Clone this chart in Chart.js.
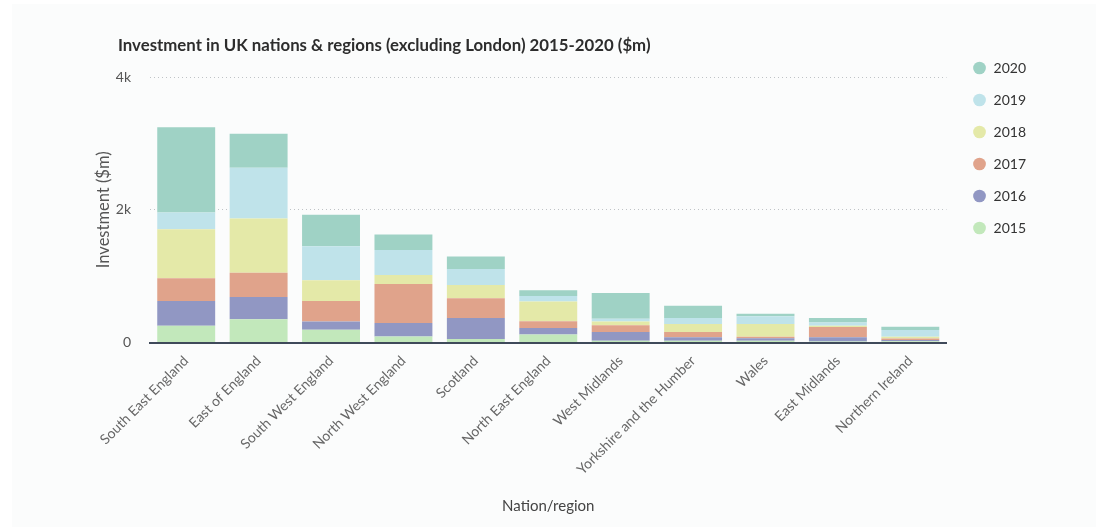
<!DOCTYPE html>
<html>
<head>
<meta charset="utf-8">
<script src="https://cdn.jsdelivr.net/npm/chart.js@4.4.1/dist/chart.umd.min.js"></script>
<style>
  body { margin: 0; background: #fff; font-family: Lato, sans-serif; }
  #card { position: absolute; left: 12px; top: 4px; right: 0; bottom: 0; background: #fbfcfc; }
  #title { position: absolute; left: 118px; top: 34px; font-size: 16.8px; font-weight: 700; color: #2d2d2d; }
  #c { position: absolute; left: 0; top: 0; }
</style>
</head>
<body>
<div id="card"></div>
<canvas id="c" width="1096" height="527"></canvas>
<div id="title">Investment in UK nations &amp; regions (excluding London) 2015-2020 ($m)</div>
<script>
var regions = ["South East England", "East of England", "South West England", "North West England",
  "Scotland", "North East England", "West Midlands", "Yorkshire and the Humber", "Wales",
  "East Midlands", "Northern Ireland"];
var years = ["2015", "2016", "2017", "2018", "2019", "2020"];

var v2015 = [255, 351, 194, 92, 52, 122, 26, 26, 26, 15, 21];
var v2016 = [371, 336, 122, 204, 320, 98, 133, 56, 41, 67, 16];
var v2017 = [342, 366, 310, 585, 295, 101, 101, 77, 20, 153, 24];
var v2018 = [737, 816, 311, 137, 199, 296, 56, 122, 194, 20, 26];
var v2019 = [255, 763, 513, 377, 244, 85, 41, 91, 116, 46, 102];
var v2020 = [1283, 513, 474, 234, 188, 87, 391, 184, 37, 71, 51];

var yTicks = [0, 2000, 4000];
var colors = ["#c2e8bb", "#9197c3", "#e0a38b", "#e4e9a8", "#bfe3ea", "#9fd2c5"];

var series = [v2015, v2016, v2017, v2018, v2019, v2020];
var datasets = [];
for (var i = 0; i < years.length; i++) {
  datasets.push({
    label: years[i],
    data: series[i],
    backgroundColor: colors[i],
    borderWidth: 0
  });
}

// legend sits higher than the plot top in the original, and a bit off the plot
var legendShift = {
  id: 'legendShift',
  afterLayout: function(chart) {
    chart.legend.top -= 34;
    chart.legend.bottom -= 34;
    chart.legend.left += 8;
    chart.legend.right += 8;
  }
};

Chart.defaults.font.family = "Lato, sans-serif";

var ctx = document.getElementById('c').getContext('2d');
var myChart = new Chart(ctx, {
  type: 'bar',
  data: { labels: regions, datasets: datasets },
  plugins: [legendShift],
  options: {
    responsive: false,
    animation: false,
    devicePixelRatio: 1,
    layout: { padding: { left: 88, top: 77, right: 68, bottom: 12 } },
    datasets: { bar: { barPercentage: 0.8, categoryPercentage: 1 } },
    plugins: {
      tooltip: { enabled: false },
      legend: {
        position: 'right',
        align: 'start',
        reverse: true,
        labels: {
          usePointStyle: true,
          pointStyle: 'circle',
          boxWidth: 14,
          boxHeight: 9,
          padding: 18,
          color: '#333',
          font: { size: 14 }
        }
      }
    },
    scales: {
      x: {
        stacked: true,
        grid: { display: false, drawTicks: false },
        border: { display: true, color: '#3f4a5a', width: 2 },
        ticks: { color: '#666', font: { size: 14 }, minRotation: 45, maxRotation: 45, padding: 10, autoSkip: false },
        title: { display: true, text: 'Nation/region', color: '#444', font: { size: 15 }, padding: { top: 9, bottom: 0 } }
      },
      y: {
        stacked: true,
        min: 0,
        max: 4000,
        afterBuildTicks: function(scale) {
          scale.ticks = yTicks.map(function(v) { return { value: v }; });
        },
        afterFit: function(scale) { scale.width = 62; },
        grid: {
          drawTicks: false,
          color: function(c) { return c.tick && c.tick.value === 0 ? 'rgba(0,0,0,0)' : '#bfc3c6'; }
        },
        border: { display: false, dash: [1, 3] },
        ticks: {
          color: '#555',
          font: { size: 14 },
          padding: 19,
          callback: function(v) { return v === 0 ? '0' : (v / 1000) + 'k'; }
        },
        title: { display: true, text: 'Investment ($m)', color: '#555', font: { size: 16.5 }, padding: { top: 6, bottom: 2 } }
      }
    }
  }
});
</script>
</body>
</html>
